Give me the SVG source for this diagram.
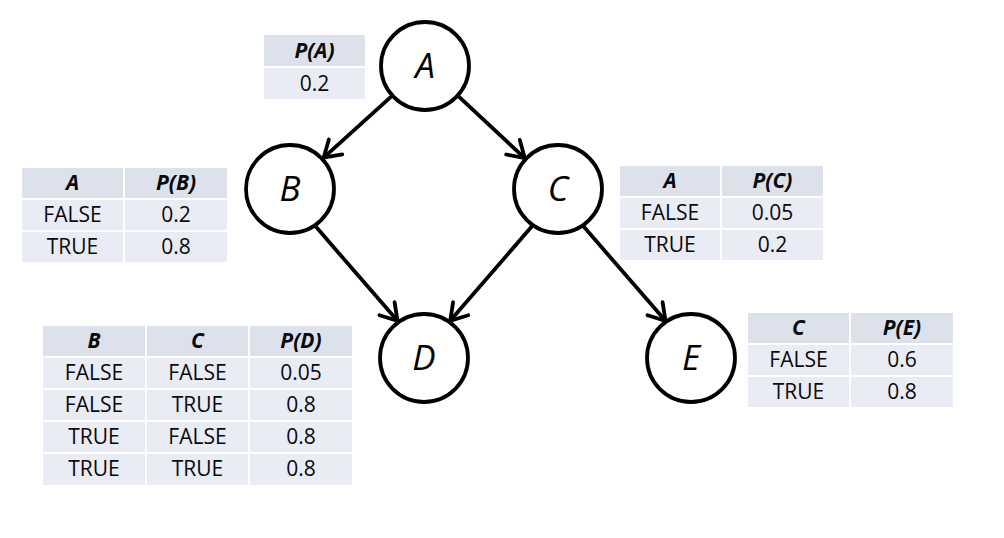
<svg xmlns="http://www.w3.org/2000/svg" width="1004" height="538" viewBox="0 0 1004 538">
  <style>
    .hd { fill: #dce1ec; }
    .bd { fill: #e9ecf4; }
    .t { font-family: "Open Sans", "Liberation Sans", sans-serif; font-size: 21px; fill: #0a0a0a; text-anchor: middle; }
    .th { font-weight: bold; font-style: italic; }
    .node { fill: #fff; stroke: #000; stroke-width: 3.8; }
    .lbl { font-family: "Open Sans", "Liberation Sans", sans-serif; font-size: 35px; font-style: italic; fill: #000; text-anchor: middle; }
    .edge { stroke: #000; stroke-width: 3.8; fill: none; }
  </style>
  <defs>
    <marker id="arrow" viewBox="0 0 24 24" refX="21" refY="12" markerWidth="24" markerHeight="24" markerUnits="userSpaceOnUse" orient="auto">
      <path d="M5,2 L21,12 L5,22" fill="none" stroke="#000" stroke-width="3.8" stroke-linecap="round" stroke-linejoin="miter"/>
    </marker>
  </defs>
  <rect width="1004" height="538" fill="#fff"/>

  <!-- connectors -->
  <g id="edges">
    <line class="edge" x1="391.7" y1="96.2" x2="323.7" y2="157.7" marker-end="url(#arrow)"/>
    <line class="edge" x1="458.3" y1="96.2" x2="524.7" y2="158.1" marker-end="url(#arrow)"/>
    <line class="edge" x1="314.9" y1="225.6" x2="397.5" y2="320.8" marker-end="url(#arrow)"/>
    <line class="edge" x1="532.6" y1="225.6" x2="450.2" y2="320.8" marker-end="url(#arrow)"/>
    <line class="edge" x1="582.8" y1="225.6" x2="665.5" y2="320.8" marker-end="url(#arrow)"/>
  </g>

  <!-- nodes -->
  <g id="node-A">
    <circle class="node" cx="425" cy="66" r="44"/>
    <text class="lbl" x="425" y="78">A</text>
  </g>
  <g id="node-B">
    <circle class="node" cx="290" cy="189" r="44"/>
    <text class="lbl" x="290" y="201">B</text>
  </g>
  <g id="node-C">
    <circle class="node" cx="558" cy="189" r="44"/>
    <text class="lbl" x="558" y="201">C</text>
  </g>
  <g id="node-D">
    <circle class="node" cx="424" cy="358" r="44"/>
    <text class="lbl" x="424" y="370">D</text>
  </g>
  <g id="node-E">
    <circle class="node" cx="691" cy="358" r="44"/>
    <text class="lbl" x="691" y="370">E</text>
  </g>

  <!-- conditional probability tables -->
  <g id="table-A">
    <rect class="hd" x="264" y="35" width="101" height="31"/>
    <rect class="bd" x="264" y="68" width="101" height="31"/>
    <text class="t th" x="314.5" y="58">P(A)</text>
    <text class="t" x="314.5" y="91">0.2</text>
  </g>

  <g id="table-B">
    <rect class="hd" x="22" y="168" width="101" height="30"/>
    <rect class="hd" x="125" y="168" width="102" height="30"/>
    <rect class="bd" x="22" y="200" width="101" height="30"/>
    <rect class="bd" x="125" y="200" width="102" height="30"/>
    <rect class="bd" x="22" y="232" width="101" height="30"/>
    <rect class="bd" x="125" y="232" width="102" height="30"/>
    <text class="t th" x="72.5" y="190">A</text>
    <text class="t th" x="176" y="190">P(B)</text>
    <text class="t" x="72.5" y="222">FALSE</text>
    <text class="t" x="176" y="222">0.2</text>
    <text class="t" x="72.5" y="254">TRUE</text>
    <text class="t" x="176" y="254">0.8</text>
  </g>

  <g id="table-C">
    <rect class="hd" x="620" y="166" width="100" height="30"/>
    <rect class="hd" x="722" y="166" width="101" height="30"/>
    <rect class="bd" x="620" y="198" width="100" height="30"/>
    <rect class="bd" x="722" y="198" width="101" height="30"/>
    <rect class="bd" x="620" y="230" width="100" height="30"/>
    <rect class="bd" x="722" y="230" width="101" height="30"/>
    <text class="t th" x="670" y="188">A</text>
    <text class="t th" x="772.5" y="188">P(C)</text>
    <text class="t" x="670" y="220">FALSE</text>
    <text class="t" x="772.5" y="220">0.05</text>
    <text class="t" x="670" y="252">TRUE</text>
    <text class="t" x="772.5" y="252">0.2</text>
  </g>

  <g id="table-D">
    <rect class="hd" x="43" y="326" width="102" height="30"/>
    <rect class="hd" x="147" y="326" width="101" height="30"/>
    <rect class="hd" x="250" y="326" width="102" height="30"/>
    <rect class="bd" x="43" y="358" width="102" height="30"/>
    <rect class="bd" x="147" y="358" width="101" height="30"/>
    <rect class="bd" x="250" y="358" width="102" height="30"/>
    <rect class="bd" x="43" y="390" width="102" height="30"/>
    <rect class="bd" x="147" y="390" width="101" height="30"/>
    <rect class="bd" x="250" y="390" width="102" height="30"/>
    <rect class="bd" x="43" y="422" width="102" height="30"/>
    <rect class="bd" x="147" y="422" width="101" height="30"/>
    <rect class="bd" x="250" y="422" width="102" height="30"/>
    <rect class="bd" x="43" y="454" width="102" height="31"/>
    <rect class="bd" x="147" y="454" width="101" height="31"/>
    <rect class="bd" x="250" y="454" width="102" height="31"/>
    <text class="t th" x="94" y="348">B</text>
    <text class="t th" x="197.5" y="348">C</text>
    <text class="t th" x="301" y="348">P(D)</text>
    <text class="t" x="94" y="380">FALSE</text>
    <text class="t" x="197.5" y="380">FALSE</text>
    <text class="t" x="301" y="380">0.05</text>
    <text class="t" x="94" y="412">FALSE</text>
    <text class="t" x="197.5" y="412">TRUE</text>
    <text class="t" x="301" y="412">0.8</text>
    <text class="t" x="94" y="444">TRUE</text>
    <text class="t" x="197.5" y="444">FALSE</text>
    <text class="t" x="301" y="444">0.8</text>
    <text class="t" x="94" y="476">TRUE</text>
    <text class="t" x="197.5" y="476">TRUE</text>
    <text class="t" x="301" y="476">0.8</text>
  </g>

  <g id="table-E">
    <rect class="hd" x="748" y="313" width="101" height="30"/>
    <rect class="hd" x="851" y="313" width="102" height="30"/>
    <rect class="bd" x="748" y="345" width="101" height="30"/>
    <rect class="bd" x="851" y="345" width="102" height="30"/>
    <rect class="bd" x="748" y="377" width="101" height="30"/>
    <rect class="bd" x="851" y="377" width="102" height="30"/>
    <text class="t th" x="798.5" y="335">C</text>
    <text class="t th" x="902" y="335">P(E)</text>
    <text class="t" x="798.5" y="367">FALSE</text>
    <text class="t" x="902" y="367">0.6</text>
    <text class="t" x="798.5" y="399">TRUE</text>
    <text class="t" x="902" y="399">0.8</text>
  </g>
</svg>
